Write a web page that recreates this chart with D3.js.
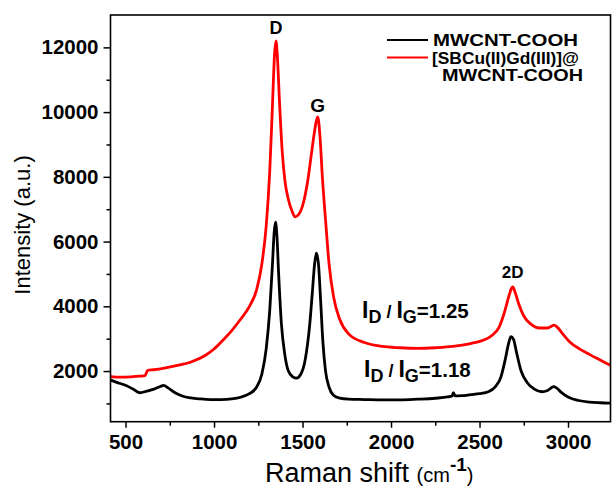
<!DOCTYPE html>
<html><head><meta charset="utf-8">
<script src="https://cdn.jsdelivr.net/npm/d3@7/dist/d3.min.js"></script>
<style>
html,body{margin:0;padding:0;background:#fff;}
svg{display:block;}
text{font-family:"Liberation Sans",Arial,Helvetica,sans-serif;}
</style></head>
<body><div id="chart"></div>
<script>
// ---- data ----
const waveBlack = [415,450,500,540,580,620,660,700,715,740,780,820,870,920,980,1040,1100,1150,1200,1240,1270,1295,1315,1330,1340,1347,1355,1365,1380,1400,1420,1445,1466,1490,1515,1540,1555,1568,1578,1590,1602,1615,1630,1650,1675,1710,1760,1850,1950,2050,2150,2250,2320,2345,2352,2362,2400,2450,2500,2550,2590,2620,2645,2662,2677,2692,2710,2735,2770,2810,2850,2885,2905,2918,2935,2960,3000,3060,3120,3180,3240];
const intBlack  = [1720,1650,1560,1450,1330,1380,1440,1530,1560,1480,1330,1230,1170,1140,1120,1120,1140,1190,1300,1500,1900,2700,3900,5300,6300,6600,6200,5000,3500,2500,2000,1820,1780,1900,2350,3400,4400,5300,5640,5300,4200,2900,2000,1500,1250,1160,1130,1120,1110,1110,1130,1160,1200,1230,1330,1230,1240,1270,1300,1360,1520,1800,2350,2800,3060,2980,2550,2000,1640,1440,1360,1400,1480,1520,1480,1350,1200,1090,1040,1020,1010];

const waveRed = [415,470,530,580,610,625,660,720,800,870,950,1000,1050,1100,1150,1200,1240,1270,1295,1315,1330,1342,1350,1358,1370,1385,1400,1420,1440,1458,1480,1505,1530,1550,1565,1577,1586,1598,1612,1631,1650,1675,1710,1760,1850,1950,2050,2150,2250,2350,2450,2520,2570,2610,2640,2665,2680,2688,2700,2720,2750,2790,2840,2880,2905,2920,2940,2970,3010,3060,3110,3160,3210,3240];
const intRed   = [1830,1810,1820,1840,1860,2020,2040,2090,2180,2280,2480,2680,2950,3250,3600,4000,4500,5300,6500,8200,10200,11800,12200,11700,10300,8800,7900,7300,6950,6760,6850,7200,7900,8700,9300,9700,9850,9300,8000,6600,5300,4300,3600,3150,2880,2760,2720,2700,2720,2760,2850,2950,3100,3350,3800,4300,4550,4600,4450,4100,3700,3450,3330,3330,3380,3420,3350,3150,2900,2700,2550,2400,2260,2180];

const xTicks = [500,1000,1500,2000,2500,3000];
const xMinor = [750,1250,1750,2250,2750,3250];
const yTicks = [2000,4000,6000,8000,10000,12000];
const yMinor = [1000,3000,5000,7000,9000,11000];
const seriesNames = ["MWCNT-COOH","[SBCu(II)Gd(III)]@","MWCNT-COOH"];
const seriesColors = ["#000000","#ff0000"];
const xDomain = [415, 3240];
const yDomain = [435, 13000];

// ---- layout ----
const W = 613, H = 489;
const M = {left:110.5, right:2.5, top:15, bottom:67.3};
const svg = d3.select("#chart").append("svg").attr("width",W).attr("height",H);
const x = d3.scaleLinear().domain(xDomain).range([M.left, W-M.right]);
const y = d3.scaleLinear().domain(yDomain).range([H-M.bottom, M.top]);

svg.append("clipPath").attr("id","clip").append("rect")
  .attr("x",M.left).attr("y",M.top).attr("width",W-M.right-M.left).attr("height",H-M.bottom-M.top);

const line = d3.line().x(d=>x(d[0])).y(d=>y(d[1])).curve(d3.curveMonotoneX);
const dBlack = waveBlack.map((w,i)=>[w,intBlack[i]]);
const dRed = waveRed.map((w,i)=>[w,intRed[i]]);

const g = svg.append("g").attr("clip-path","url(#clip)");
g.append("path").datum(dBlack).attr("d",line).attr("fill","none").attr("stroke",seriesColors[0]).attr("stroke-width",2.8).attr("stroke-linejoin","round");
g.append("path").datum(dRed).attr("d",line).attr("fill","none").attr("stroke",seriesColors[1]).attr("stroke-width",2.8).attr("stroke-linejoin","round");

// ---- axes ----
const xAxis = svg.append("g").attr("transform",`translate(0,${H-M.bottom})`)
  .call(d3.axisBottom(x).tickValues(xTicks).tickSize(6).tickPadding(7).tickFormat(d3.format("d")));
const xAxisMinor = svg.append("g").attr("transform",`translate(0,${H-M.bottom})`)
  .call(d3.axisBottom(x).tickValues(xMinor.filter(v=>v<=xDomain[1])).tickSize(4).tickFormat(""));
const yAxis = svg.append("g").attr("transform",`translate(${M.left},0)`)
  .call(d3.axisLeft(y).tickValues(yTicks).tickSize(7).tickPadding(5).tickFormat(d3.format("d")));
const yAxisMinor = svg.append("g").attr("transform",`translate(${M.left},0)`)
  .call(d3.axisLeft(y).tickValues(yMinor).tickSize(4).tickFormat(""));
[xAxis,xAxisMinor,yAxis,yAxisMinor].forEach(a=>{
  a.select(".domain").remove();
  a.selectAll("line").attr("stroke","#000").attr("stroke-width",1.5);
  a.selectAll("text").attr("font-size",20.5).attr("font-weight","bold").attr("fill","#000")
   .attr("font-family",'"Liberation Sans",Arial,sans-serif');
});
// frame
svg.append("rect").attr("x",M.left).attr("y",M.top).attr("width",W-M.right-M.left).attr("height",H-M.bottom-M.top)
  .attr("fill","none").attr("stroke","#000").attr("stroke-width",1.6);

// ---- axis titles ----
svg.append("text").attr("transform",`translate(30,225) rotate(-90)`)
  .attr("text-anchor","middle").attr("font-size",22).text("Intensity (a.u.)");
const xt = svg.append("text").attr("x",265).attr("y",482).attr("font-size",27);
xt.append("tspan").text("Raman shift ");
xt.append("tspan").attr("font-size",20).text("(cm");
xt.append("tspan").attr("font-size",19).attr("font-weight","bold").attr("dy",-11).text("-1");
xt.append("tspan").attr("font-size",20).attr("dy",11).text(")");

// ---- legend ----
const lg = svg.append("g").attr("font-weight","bold").attr("font-size",16.5);
lg.append("line").attr("x1",387).attr("x2",428).attr("y1",40).attr("y2",40).attr("stroke",seriesColors[0]).attr("stroke-width",2);
lg.append("line").attr("x1",387).attr("x2",428).attr("y1",57.5).attr("y2",57.5).attr("stroke",seriesColors[1]).attr("stroke-width",2);
lg.append("text").attr("x",433).attr("y",46).attr("textLength",145).attr("lengthAdjust","spacingAndGlyphs").text(seriesNames[0]);
lg.append("text").attr("x",432).attr("y",63.5).attr("textLength",147).attr("lengthAdjust","spacingAndGlyphs").text(seriesNames[1]);
lg.append("text").attr("x",442).attr("y",81).attr("textLength",141).attr("lengthAdjust","spacingAndGlyphs").text(seriesNames[2]);

// ---- peak annotations ----
const ann = svg.append("g").attr("font-weight","bold");
ann.append("text").attr("x",x(1350)).attr("y",34).attr("text-anchor","middle").attr("font-size",18).text("D");
ann.append("text").attr("x",x(1586)).attr("y",112).attr("text-anchor","middle").attr("font-size",19).text("G");
ann.append("text").attr("x",x(2687)).attr("y",278).attr("text-anchor","middle").attr("font-size",17).text("2D");

function ratio(xp, yp, val){
  const t = svg.append("text").attr("x",xp).attr("y",yp).attr("font-weight","bold");
  t.append("tspan").attr("font-size",23).text("I");
  t.append("tspan").attr("font-size",18).attr("dy",5).text("D");
  t.append("tspan").attr("font-size",18).attr("dy",-5).text(" / ");
  t.append("tspan").attr("font-size",23).text("I");
  t.append("tspan").attr("font-size",18).attr("dy",5).text("G");
  t.append("tspan").attr("font-size",20.5).attr("dy",-5).text("=" + val);
}
ratio(362, 318, "1.25");
ratio(364, 377, "1.18");
</script></body></html>
